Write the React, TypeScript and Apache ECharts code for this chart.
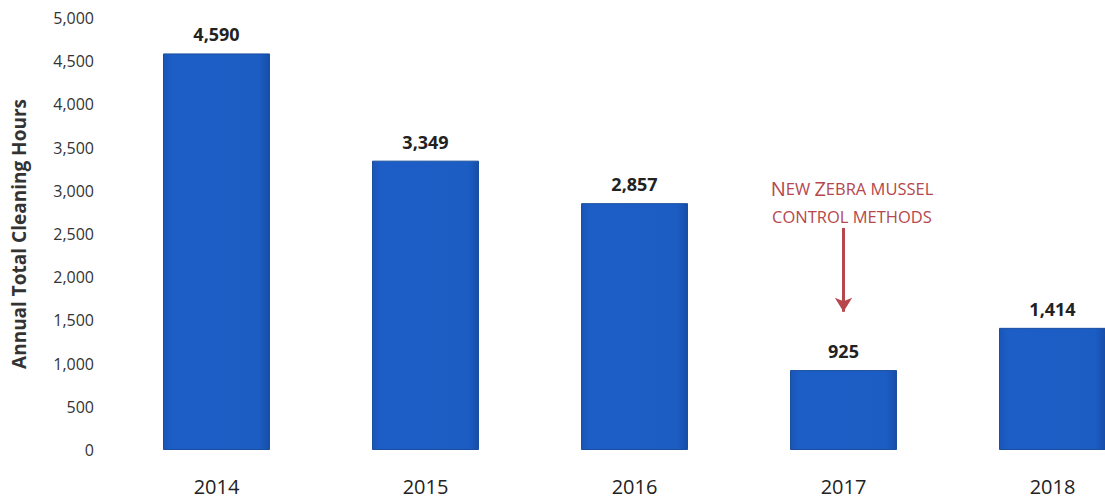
import React, { useEffect, useRef } from "react";
import * as echarts from "echarts";

const categories = ["2014", "2015", "2016", "2017", "2018"];
const hours = [4590, 3349, 2857, 925, 1414];
const yAxisTitle = "Annual Total Cleaning Hours";
const annotationLine1 = "New Zebra mussel";
const annotationLine2 = "control methods";
const arrowFrom = 2570;
const arrowTo = 1600;

const fmt = (v: number) => v.toLocaleString("en-US");

export default function App() {
  const ref = useRef<HTMLDivElement>(null);
  useEffect(() => {
    document.body.style.margin = "0";
    const chart = echarts.init(ref.current!, undefined, { renderer: "svg" });
    const red = "#b5474d";
    const font = "Open Sans";
    const option = {
      animation: false,
      backgroundColor: "#ffffff",
      grid: {
        left: 112,
        right: 0,
        top: 18,
        bottom: 48,
        containLabel: false,
        outerBoundsMode: "none",
      },
      xAxis: {
        type: "category",
        data: categories,
        axisLine: { show: false },
        axisTick: { show: false },
        axisLabel: {
          fontFamily: font,
          fontSize: 20,
          color: "#222",
          margin: 26,
        },
      },
      yAxis: {
        type: "value",
        min: 0,
        max: 5000,
        interval: 500,
        splitLine: { show: false },
        axisLine: { show: false },
        axisTick: { show: false },
        axisLabel: {
          fontFamily: font,
          fontSize: 16,
          color: "#333",
          margin: 18,
          formatter: (v: number) => fmt(v),
        },
        name: yAxisTitle,
        nameLocation: "middle",
        nameGap: 84,
        nameTextStyle: {
          fontFamily: font,
          fontWeight: "bold",
          fontSize: 19,
          color: "#333",
        },
      },
      series: [
        {
          type: "bar",
          data: hours,
          barWidth: 107,
          itemStyle: {
            color: new echarts.graphic.LinearGradient(0, 0, 1, 0, [
              { offset: 0, color: "#1a55b8" },
              { offset: 0.08, color: "#1c5ec6" },
              { offset: 0.9, color: "#1c5dc4" },
              { offset: 1, color: "#164ea8" },
            ]),
            borderColor: "#1a4f9e",
            borderWidth: 1,
          },
          label: {
            show: true,
            position: "top",
            distance: 10,
            fontFamily: font,
            fontWeight: "bold",
            fontSize: 18,
            color: "#222",
            formatter: (p: any) => fmt(p.value),
          },
          markLine: {
            silent: true,
            symbol: ["none", "arrow"],
            symbolSize: [13, 14],
            label: { show: false },
            lineStyle: { color: red, width: 3, type: "solid" },
            data: [
              [
                { coord: ["2017", arrowFrom] },
                { coord: ["2017", arrowTo] },
              ],
            ],
          },
        },
      ],
      graphic: [
        {
          type: "text",
          x: 852,
          y: 174,
          style: {
            text:
              "{b|" + annotationLine1[0].toUpperCase() + "}{s|" +
              "EW" + " }{b|Z}{s|EBRA MUSSEL}\n{s|" +
              annotationLine2.toUpperCase() + "}",
            align: "center",
            verticalAlign: "top",
            fill: red,
            rich: {
              b: { fontFamily: font, fontSize: 20, fill: red, lineHeight: 28 },
              s: { fontFamily: font, fontSize: 16.5, fill: red, lineHeight: 28 },
            },
          },
        },
      ],
    };
    chart.setOption(option as any);
    return () => chart.dispose();
  }, []);
  return (
    <div
      style={{
        position: "absolute",
        left: 0,
        top: 0,
        width: 1105,
        height: 498,
        overflow: "hidden",
        background: "#fff",
      }}
    >
      <div ref={ref} style={{ width: 1157, height: 498 }} />
    </div>
  );
}
